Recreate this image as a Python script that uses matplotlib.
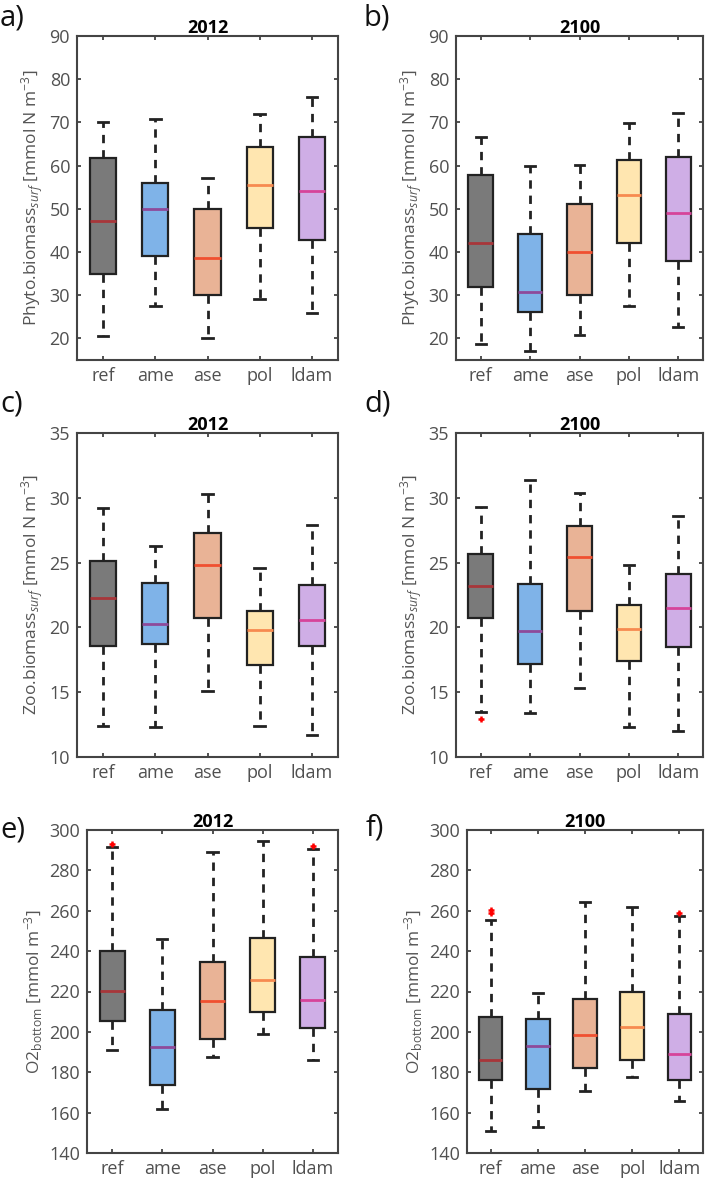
import matplotlib
matplotlib.use('Agg')
import matplotlib.pyplot as plt

plt.rcParams['font.family'] = ['Open Sans', 'DejaVu Sans']
plt.rcParams['mathtext.fontset'] = 'custom'
plt.rcParams['mathtext.rm'] = 'Open Sans'
plt.rcParams['mathtext.it'] = 'Open Sans:italic'

categories = ['ref', 'ame', 'ase', 'pol', 'ldam']
box_colors = ['#7a7a7a', '#7fb3e8', '#e9b396', '#ffe6b0', '#cfaee6']
med_colors = ['#a8363a', '#8e4a9a', '#f05030', '#f78a50', '#d6449a']

# (whislo, q1, median, q3, whishi) per scenario
phyto_2012 = [[20.6, 34.9, 47.2, 61.8, 70.0],
              [27.6, 39.0, 50.0, 56.0, 70.9],
              [20.0, 30.0, 38.7, 49.9, 57.2],
              [29.1, 45.5, 55.4, 64.2, 71.9],
              [25.8, 42.8, 54.2, 66.6, 75.9]]
phyto_2100 = [[18.7, 31.8, 42.1, 57.8, 66.6],
              [17.1, 26.0, 30.7, 44.2, 59.8],
              [20.9, 30.1, 40.0, 51.2, 60.1],
              [27.4, 42.1, 53.3, 61.2, 69.9],
              [22.6, 38.0, 49.0, 62.0, 72.2]]
zoo_2012 = [[12.4, 18.6, 22.3, 25.1, 29.2],
            [12.3, 18.7, 20.3, 23.4, 26.3],
            [15.1, 20.7, 24.8, 27.3, 30.3],
            [12.4, 17.1, 19.8, 21.3, 24.6],
            [11.7, 18.6, 20.6, 23.3, 27.9]]
zoo_2100 = [[13.5, 20.7, 23.2, 25.7, 29.3],
            [13.4, 17.2, 19.7, 23.35, 31.4],
            [15.3, 21.3, 25.4, 27.8, 30.4],
            [12.3, 17.4, 19.9, 21.7, 24.8],
            [12.0, 18.5, 21.5, 24.1, 28.6]]
o2_2012 = [[191.1, 205.2, 220.2, 240.3, 291.8],
           [162.0, 173.6, 192.5, 210.6, 245.9],
           [187.8, 196.7, 215.4, 234.8, 289.3],
           [198.7, 209.8, 225.8, 246.4, 294.6],
           [186.0, 202.0, 215.9, 237.3, 290.6]]
o2_2100 = [[151.0, 176.0, 186.2, 207.6, 255.5],
           [152.9, 171.8, 193.1, 206.6, 219.5],
           [170.5, 182.2, 198.4, 216.2, 264.5],
           [177.6, 186.2, 202.4, 219.7, 261.7],
           [165.6, 176.0, 189.2, 208.8, 257.6]]

zoo_2100_out = [[12.9], [], [], [], []]
o2_2012_out = [[293.1], [], [], [], [292.1]]
o2_2100_out = [[259.1, 260.2], [], [], [], [259.1]]
no_out = [[], [], [], [], []]

W, H = 709, 1182
fig = plt.figure(figsize=(W / 100, H / 100), dpi=100)


def px_axes(left, right, top, bottom):
    return fig.add_axes([left / W, 1 - bottom / H, (right - left) / W, (bottom - top) / H])


def panel(ax, data, outliers, ylim, yticks, title, ylabel):
    stats = []
    for q, out in zip(data, outliers):
        stats.append(dict(whislo=q[0], q1=q[1], med=q[2], q3=q[3], whishi=q[4], fliers=out))
    bp = ax.bxp(stats, positions=range(1, 6), widths=0.5, capwidths=0.2,
                patch_artist=True, showfliers=True,
                boxprops=dict(edgecolor='#222222', linewidth=1.6),
                whiskerprops=dict(color='#222222', linewidth=2.0, linestyle=(0, (3, 2.5))),
                capprops=dict(color='#222222', linewidth=2.0),
                medianprops=dict(linewidth=2.0),
                flierprops=dict(marker='+', markeredgecolor='red', markersize=5, markeredgewidth=1.8))
    for patch, c in zip(bp['boxes'], box_colors):
        patch.set_facecolor(c)
    for m, c in zip(bp['medians'], med_colors):
        m.set_color(c)
    ax.set_xlim(0.5, 5.5)
    ax.set_ylim(*ylim)
    ax.set_yticks(yticks)
    ax.set_xticks(range(1, 6))
    ax.set_xticklabels(categories)
    ax.tick_params(direction='in', top=True, right=True, length=3, width=1.2,
                   labelsize=13, labelcolor='#505050', color='#333333', pad=5)
    for s in ax.spines.values():
        s.set_color('#444444')
        s.set_linewidth(1.5)
    ax.set_title(title, fontsize=13, fontweight='bold', pad=2)
    ax.set_ylabel(ylabel, fontsize=12.5, color='#555555', labelpad=3)


phyto_lab = r'Phyto.biomass$_{\mathit{surf}}$ [mmol N m$^{-3}$]'
zoo_lab = r'Zoo.biomass$_{\mathit{surf}}$ [mmol N m$^{-3}$]'
o2_lab = r'O2$_{\mathrm{bottom}}$ [mmol m$^{-3}$]'

ax_a = px_axes(77, 338, 36, 360)
panel(ax_a, phyto_2012, no_out, (15, 90), range(20, 91, 10), '2012', phyto_lab)
ax_b = px_axes(456, 703, 36, 360)
panel(ax_b, phyto_2100, no_out, (15, 90), range(20, 91, 10), '2100', phyto_lab)
ax_c = px_axes(77, 338, 433, 757)
panel(ax_c, zoo_2012, no_out, (10, 35), range(10, 36, 5), '2012', zoo_lab)
ax_d = px_axes(456, 703, 433, 757)
panel(ax_d, zoo_2100, zoo_2100_out, (10, 35), range(10, 36, 5), '2100', zoo_lab)
ax_e = px_axes(87, 338, 830, 1153)
panel(ax_e, o2_2012, o2_2012_out, (140, 300), range(140, 301, 20), '2012', o2_lab)
ax_f = px_axes(467, 703, 830, 1153)
panel(ax_f, o2_2100, o2_2100_out, (140, 300), range(140, 301, 20), '2100', o2_lab)

for lab, x, y in [('a)', 0, 18), ('b)', 364, 18), ('c)', 0, 404), ('d)', 364, 404),
                  ('e)', 0, 830), ('f)', 366, 828)]:
    fig.text(x / W, 1 - y / H, lab, fontsize=21, ha='left', va='center', color='#111111')

fig.savefig('out.png', dpi=100, facecolor='white')
